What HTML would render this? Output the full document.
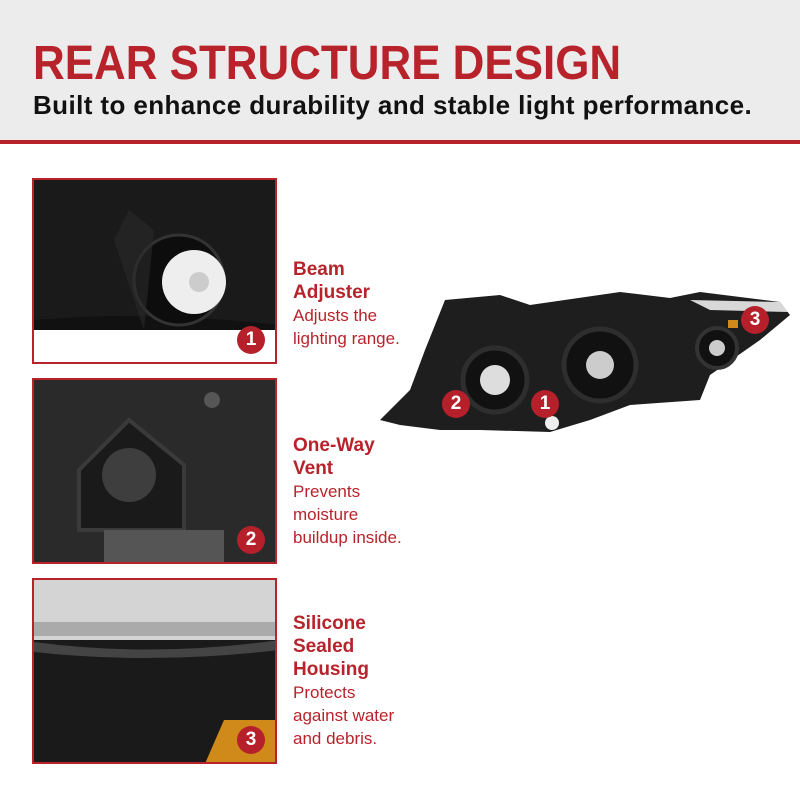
<!DOCTYPE html>
<html><head><meta charset="utf-8"><style>
*{margin:0;padding:0;box-sizing:border-box}
body{width:800px;height:800px;background:#fff;position:relative;overflow:hidden;font-family:"Liberation Sans",sans-serif}
.hdr{position:absolute;left:0;top:0;width:800px;height:144px;background:#ececec;border-bottom:4px solid #b8232b}
h1{position:absolute;left:33px;top:36px;font-size:48px;font-weight:900;color:#b8232b;white-space:nowrap;transform-origin:0 0;transform:scaleX(0.915)}
h2{position:absolute;left:33px;top:90px;font-size:26px;font-weight:700;color:#111;white-space:nowrap;letter-spacing:0.4px}
.p{position:absolute;left:32px;width:245px;height:186px;border:2px solid #b8232b;overflow:hidden;background:#fff}
.b{position:absolute;width:28px;height:28px;border-radius:50%;background:#b5202a;color:#fff;font-weight:700;font-size:19px;text-align:center;line-height:28px}
.t{position:absolute;left:293px;font-size:19px;line-height:23px;color:#b8232b;font-weight:700}
.t span{display:block;color:#b8232b;font-weight:400;font-size:17px;line-height:23px}
</style></head><body>
<div class="hdr"></div>
<h1>REAR STRUCTURE DESIGN</h1>
<h2>Built to enhance durability and stable light performance.</h2>

<div class="p" style="top:178px">
<svg width="245" height="186"><rect width="245" height="150" fill="#1a1a1a"/>
<path d="M0 150 L0 140 Q120 130 245 145 L245 150Z" fill="#111"/>
<circle cx="145" cy="100" r="45" fill="#0d0d0d" stroke="#333" stroke-width="3"/>
<circle cx="160" cy="102" r="32" fill="#eee"/><circle cx="165" cy="102" r="10" fill="#ccc"/>
<path d="M80 60 L95 30 L120 50 L110 150Z" fill="#2a2a2a" opacity=".6"/></svg>
<div class="b" style="left:203px;top:146px">1</div></div>

<div class="p" style="top:378px">
<svg width="245" height="186"><rect width="245" height="186" fill="#2a2a2a"/>
<path d="M45 90 L95 40 L150 85 L150 150 L45 150Z" fill="#1a1a1a" stroke="#3a3a3a" stroke-width="4"/>
<circle cx="95" cy="95" r="27" fill="#3e3e3e"/><circle cx="178" cy="20" r="8" fill="#555"/>
<rect x="70" y="150" width="120" height="36" fill="#555"/></svg>
<div class="b" style="left:203px;top:146px">2</div></div>

<div class="p" style="top:578px">
<svg width="245" height="186"><rect width="245" height="186" fill="#1a1a1a"/>
<rect width="245" height="60" fill="#d4d4d4"/><rect y="42" width="245" height="14" fill="#aaa"/>
<path d="M0 62 Q120 78 245 60 L245 70 Q120 85 0 72Z" fill="#444"/>
<path d="M170 186 L190 140 L245 140 L245 186Z" fill="#d08a1a"/></svg>
<div class="b" style="left:203px;top:146px">3</div></div>

<div class="t" style="top:258px">Beam<br>Adjuster<span>Adjusts the<br>lighting range.</span></div>
<div class="t" style="top:434px">One-Way<br>Vent<span>Prevents<br>moisture<br>buildup inside.</span></div>
<div class="t" style="top:612px">Silicone<br>Sealed<br>Housing<span>Protects<br>against water<br>and debris.</span></div>

<svg style="position:absolute;left:380px;top:280px" width="420" height="170">
<path d="M0 140 L30 110 L45 70 L65 20 L120 15 L150 25 L240 12 L290 18 L320 12 L400 22 L410 35 L380 60 L330 95 L320 120 L250 125 L210 140 L170 152 L100 150 L60 150 L20 145Z" fill="#1e1e1e"/>
<path d="M310 20 L400 22 L408 32 L330 30Z" fill="#d8d8d8"/>
<circle cx="115" cy="100" r="32" fill="#111" stroke="#2e2e2e" stroke-width="5"/>
<circle cx="115" cy="100" r="15" fill="#ddd"/>
<circle cx="220" cy="85" r="36" fill="#111" stroke="#2e2e2e" stroke-width="5"/>
<circle cx="220" cy="85" r="14" fill="#ccc"/>
<circle cx="337" cy="68" r="20" fill="#111" stroke="#333" stroke-width="4"/>
<circle cx="337" cy="68" r="8" fill="#ccc"/>
<circle cx="172" cy="143" r="7" fill="#eee"/>
<rect x="348" y="40" width="10" height="8" fill="#d08a1a"/>
</svg>
<div class="b" style="left:442px;top:390px">2</div>
<div class="b" style="left:531px;top:390px">1</div>
<div class="b" style="left:741px;top:306px">3</div>
</body></html>
